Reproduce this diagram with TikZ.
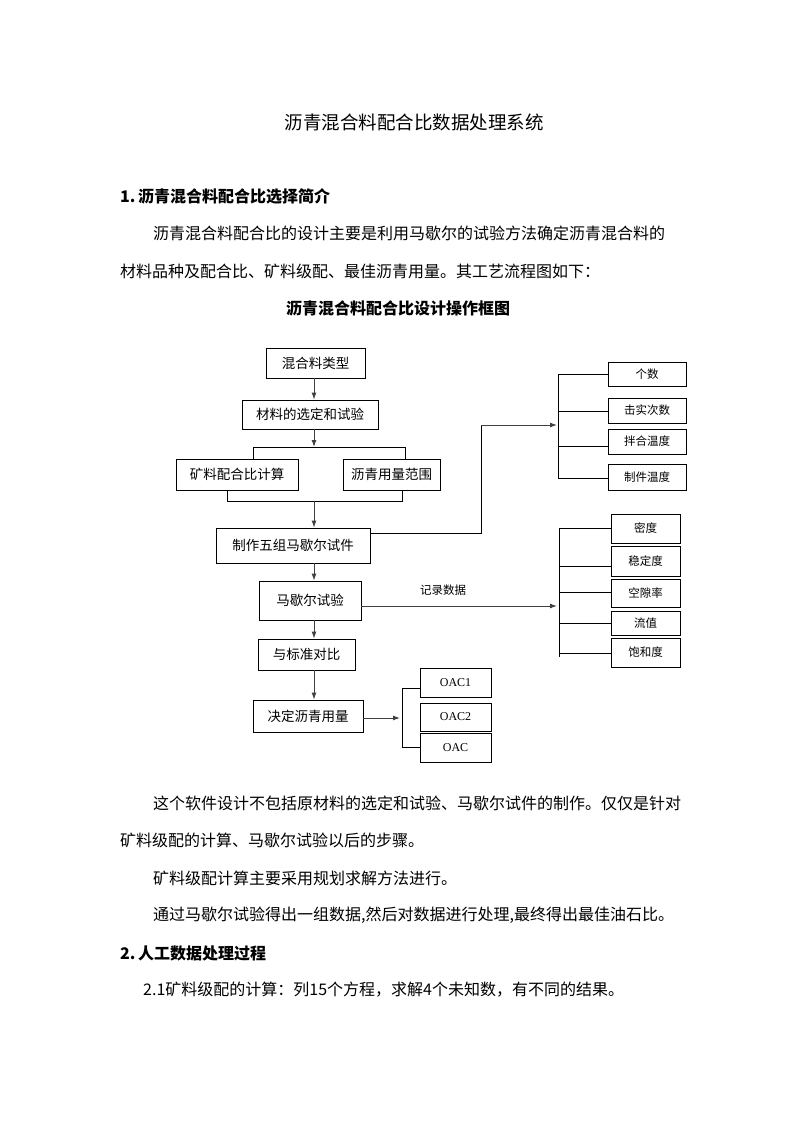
\documentclass[tikz,border=0pt]{standalone}
\usepackage{fontspec}
\setmainfont{Noto Sans CJK SC}
\newfontfamily\latinserif{Liberation Serif}
\XeTeXlinebreaklocale "zh"
\XeTeXlinebreakskip=0pt plus 2pt
\usetikzlibrary{arrows.meta}
\begin{document}
\begin{tikzpicture}[x=1pt,y=-1pt,
  box/.style={draw=black,line width=0.8pt,inner sep=0pt,font=\fontsize{13.5}{14}\selectfont},
  sbox/.style={draw=black,line width=0.8pt,inner sep=0pt,font=\fontsize{11.5}{12}\selectfont},
  obox/.style={draw=black,line width=0.8pt,inner sep=0pt,minimum width=71pt,font=\latinserif\fontsize{12}{13}\selectfont},
  conn/.style={draw=black!75,line width=1pt},
  arr/.style={conn,-{Latex[length=7pt,width=5pt]}},
  line/.style={draw=black,line width=0.8pt},
  txt/.style={inner sep=0pt,anchor=west,font=\fontsize{16}{18}\selectfont},
  btxt/.style={txt,font=\fontsize{16}{18}\selectfont\bfseries}
]
\fill[white] (0,0) rectangle (793,1122);
\useasboundingbox (0,0) rectangle (793,1122);

% ---- page text ----
\node[inner sep=0pt,font=\fontsize{18.5}{20}\selectfont] (title) at (414,122) {沥青混合料配合比数据处理系统};
\node[btxt] (s1) at (120,196) {1.\,沥青混合料配合比选择简介};
\node[txt] (p1) at (153,233) {\makebox[525pt][s]{沥青混合料配合比的设计主要是利用马歇尔的试验方法确定沥青混合料的}};
\node[txt] (p2) at (120,271) {材料品种及配合比、矿料级配、最佳沥青用量。其工艺流程图如下：};
\node[inner sep=0pt,font=\fontsize{16}{18}\selectfont\bfseries] (dtitle) at (398,308) {沥青混合料配合比设计操作框图};

\node[txt] (q1) at (153,803) {\makebox[525pt][s]{这个软件设计不包括原材料的选定和试验、马歇尔试件的制作。仅仅是针对}};
\node[txt] (q2) at (120,840) {矿料级配的计算、马歇尔试验以后的步骤。};
\node[txt] (q3) at (153,878) {矿料级配计算主要采用规划求解方法进行。};
\node[txt] (q4) at (153,915) {通过马歇尔试验得出一组数据,然后对数据进行处理,最终得出最佳油石比。};
\node[btxt] (s2) at (120,953) {2.\,人工数据处理过程};
\node[txt] (q6) at (143,990) {2.1矿料级配的计算：列15个方程，求解4个未知数，有不同的结果。};

% ---- main boxes ----
\node[box,minimum width=99pt,minimum height=30pt] (a) at (315.5,363) {混合料类型};
\node[box,minimum width=136pt,minimum height=29pt] (b) at (310,414.5) {材料的选定和试验};
\node[box,minimum width=122pt,minimum height=31pt] (c) at (237,474.5) {矿料配合比计算};
\node[box,minimum width=97pt,minimum height=31pt] (d) at (391.5,474.5) {沥青用量范围};
\node[box,minimum width=154pt,minimum height=35pt] (e) at (293,545.5) {制作五组马歇尔试件};
\node[box,minimum width=102pt,minimum height=39pt] (f) at (310,600.5) {马歇尔试验};
\node[box,minimum width=97pt,minimum height=31pt] (g) at (306.5,654.5) {与标准对比};
\node[box,minimum width=110pt,minimum height=32pt] (h) at (308,716) {决定沥青用量};

% ---- right group 1 ----
\node[sbox,minimum width=78pt,minimum height=24pt] (r1) at (647,374) {个数};
\node[sbox,minimum width=78pt,minimum height=25pt] (r2) at (647,410.5) {击实次数};
\node[sbox,minimum width=78pt,minimum height=25pt] (r3) at (647,441.5) {拌合温度};
\node[sbox,minimum width=78pt,minimum height=26pt] (r4) at (647,477) {制件温度};

% ---- right group 2 ----
\node[sbox,minimum width=69pt,minimum height=29pt] (m1) at (645.5,528.5) {密度};
\node[sbox,minimum width=69pt,minimum height=30pt] (m2) at (645.5,561) {稳定度};
\node[sbox,minimum width=69pt,minimum height=28pt] (m3) at (645.5,593) {空隙率};
\node[sbox,minimum width=69pt,minimum height=24pt] (m4) at (645.5,623) {流值};
\node[sbox,minimum width=69pt,minimum height=29pt] (m5) at (645.5,652.5) {饱和度};

% ---- OAC boxes ----
\node[obox,minimum height=29pt] (o1) at (455.5,682.5) {OAC1};
\node[obox,minimum height=28pt] (o2) at (455.5,717) {OAC2};
\node[obox,minimum height=29pt] (o3) at (455.5,747.5) {OAC};

\node[inner sep=0pt,font=\fontsize{11.5}{12}\selectfont] (rec) at (443,590) {记录数据};

% ---- coordinates ----
\coordinate (sp) at (314,0);
\coordinate (bar1) at (314,447);
\coordinate (bar1l) at (253,447);
\coordinate (bar1r) at (405,447);
\coordinate (bar2) at (314,501);
\coordinate (bar2l) at (227,501);
\coordinate (bar2r) at (402,501);
\coordinate (k1) at (481,533);
\coordinate (k2) at (481,425);
\coordinate (br1t) at (558,374);
\coordinate (br1b) at (558,478);
\coordinate (br1m) at (557,425);
\coordinate (br2t) at (559,528);
\coordinate (br2b) at (559,657);
\coordinate (br2m) at (557,606);
\coordinate (br3t) at (402,688);
\coordinate (br3b) at (402,747);
\coordinate (br3m) at (400,718);

% ---- main spine ----
\draw[arr] (a.south -| sp) -- (b.north -| sp);
\draw[arr] (b.south -| sp) -- (bar1);
\draw[line] (bar1l) -- (bar1r);
\draw[line] (bar1l) -- (bar1l |- c.north);
\draw[line] (bar1r) -- (bar1r |- d.north);
\draw[line] (bar2l |- c.south) -- (bar2l) -- (bar2r) -- (bar2r |- d.south);
\draw[arr] (bar2) -- (e.north -| sp);
\draw[arr] (e.south -| sp) -- (f.north -| sp);
\draw[arr] (f.south -| sp) -- (g.north -| sp);
\draw[arr] (g.south -| sp) -- (h.north -| sp);

% ---- to group 1 ----
\draw[line] (e.east |- k1) -- (k1) -- (k2);
\draw[arr] (k2) -- (br1m);
\draw[line] (br1t) -- (br1b);
\draw[line] (br1t) -- (r1.west |- br1t);
\draw[line] (558,411) -- (r2.west |- 0,411);
\draw[line] (558,446) -- (r3.west |- 0,446);
\draw[line] (br1b) -- (r4.west |- br1b);

% ---- to group 2 ----
\draw[arr] (f.east |- br2m) -- (br2m);
\draw[line] (br2t) -- (br2b);
\draw[line] (br2t) -- (m1.west |- br2t);
\draw[line] (559,566) -- (m2.west |- 0,566);
\draw[line] (559,592) -- (m3.west |- 0,592);
\draw[line] (559,623) -- (m4.west |- 0,623);
\draw[line] (559,653) -- (m5.west |- 0,653);

% ---- to OAC ----
\draw[arr] (h.east |- br3m) -- (br3m);
\draw[line] (br3t) -- (br3b);
\draw[line] (br3t) -- (o1.west |- br3t);
\draw[line] (br3b) -- (o3.west |- br3b);
\end{tikzpicture}
\end{document}
